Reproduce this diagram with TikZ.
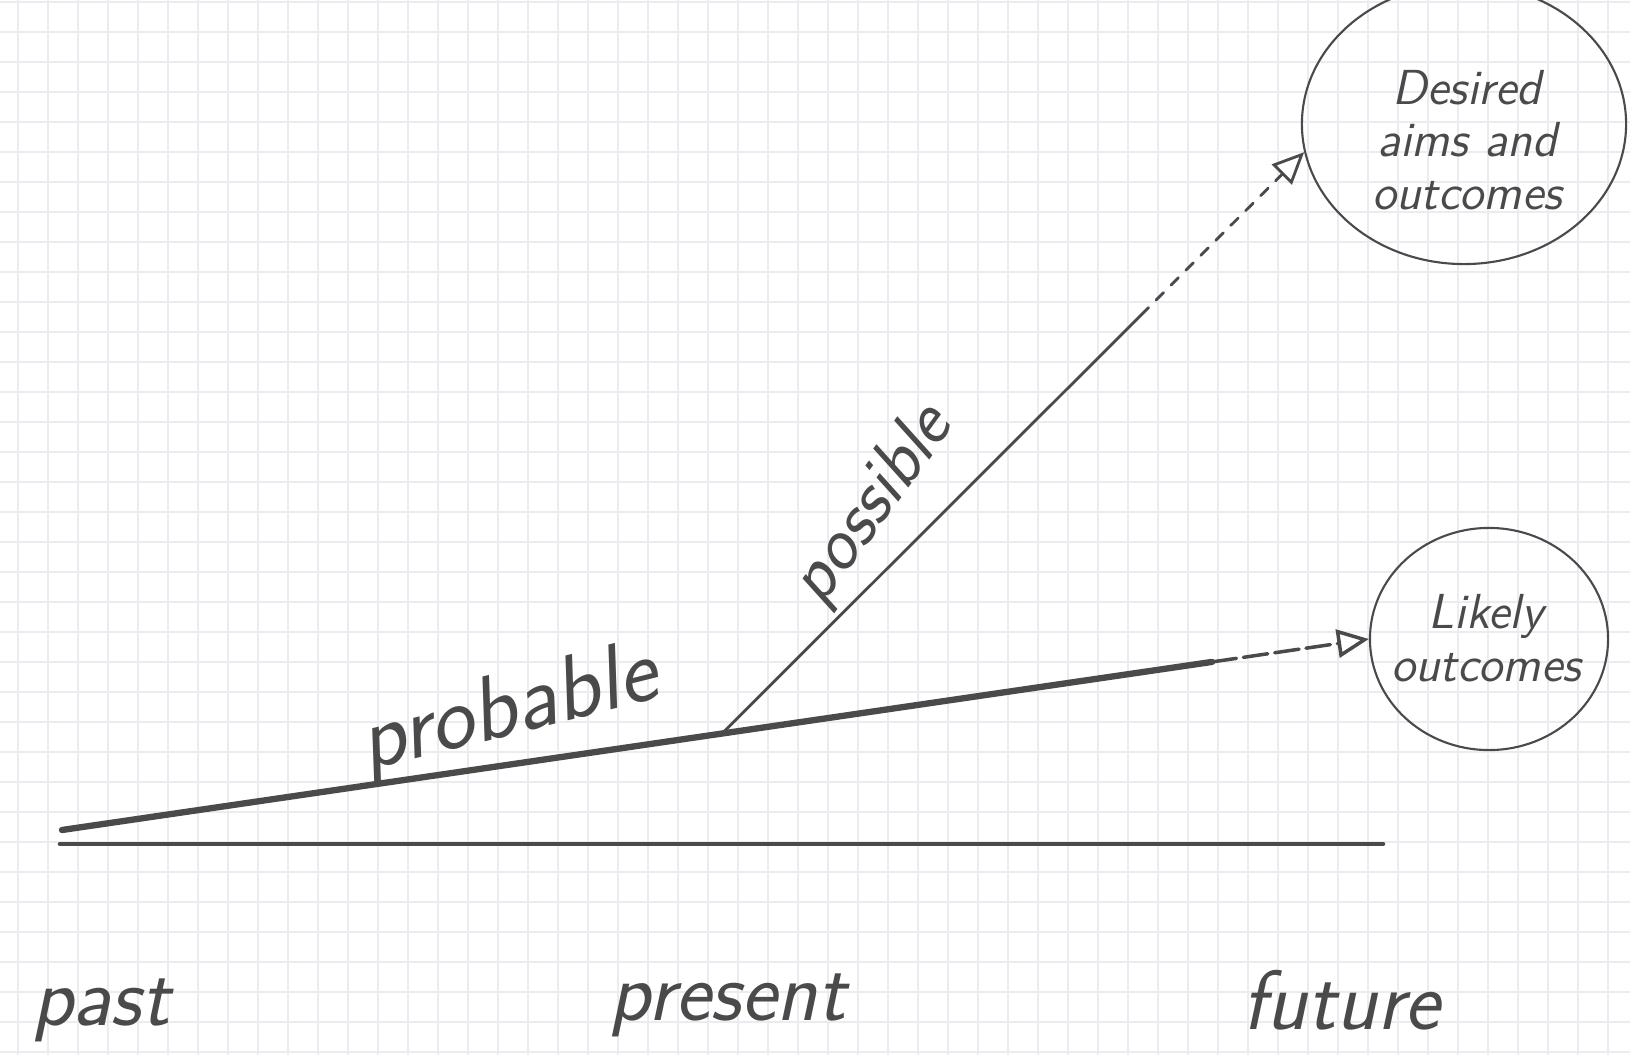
\documentclass[tikz,border=0pt]{standalone}
\usetikzlibrary{arrows.meta,calc,shapes.geometric}
\definecolor{Pencil}{HTML}{4A4A4A}
\definecolor{GridLine}{HTML}{EBEBF1}

\tikzset{
  hand/.style={font=\sffamily\itshape\fontsize{24}{26}\selectfont,text=Pencil,inner sep=0pt},
  note/.style={font=\sffamily\itshape\fontsize{14}{15}\selectfont,text=Pencil,align=center},
  goal/.style={ellipse,draw=Pencil,line width=0.6pt,inner sep=0pt},
  pencil/.style={draw=Pencil,line cap=round},
  tip/.style={-{Triangle[open,length=9pt,width=8pt]}},
}

\begin{document}
\begin{tikzpicture}[x=0.01cm,y=-0.01cm]
        \useasboundingbox (0,0) rectangle (1630,1055);
        \fill[white] (0,0) rectangle (1630,1055);
        % squared paper
        \foreach \gx in {18,48,...,1630}
          \draw[GridLine,line width=0.4pt] (\gx,0)--(\gx,1055);
        \foreach \gy in {2,32,...,1055}
          \draw[GridLine,line width=0.4pt] (0,\gy)--(1630,\gy);

        \node[goal,minimum width=3.24cm,minimum height=2.8cm] (desired) at (1464,124) {};
        \node[note] (desiredText) at (1467,140) {Desired\\aims and\\outcomes};
        \node[goal,minimum width=2.38cm,minimum height=2.22cm] (likely) at (1489,639) {};
        \node[note] (likelyText) at (1486,638) {Likely\\outcomes};

        \coordinate (axisL) at (60,844);
        \coordinate (axisR) at (1383,844);
        \coordinate (start) at (62,830);
        \coordinate (branch) at ($(start)!0.505!(likely.west)$);
        \coordinate (fade) at ($(start)!0.88!(likely.west)$);
        \coordinate (hazy) at ($(branch)!0.72!(desired.190)$);

        \draw[pencil,line width=1.3pt] (axisL)--(axisR);
        \draw[pencil,line width=1.8pt] (start)--(fade);
        \draw[pencil,line width=1pt,dash pattern=on 7pt off 2pt,tip] (fade)--(likely.west);
        \draw[pencil,line width=0.8pt] (branch)--(hazy);
        \draw[pencil,line width=0.8pt,dashed,tip] (hazy)--(desired.190);

        \node[hand,font=\sffamily\itshape\fontsize{26}{28}\selectfont,rotate=14] (probable) at (509,712) {probable};
        \node[hand,font=\sffamily\itshape\fontsize{21}{24}\selectfont,rotate=54] (possible) at (873,506) {possible};
        \node[hand] (past) at (101,1010) {past};
        \node[hand] (present) at (728,1005) {present};
        \node[hand] (future) at (1341,1000) {future};
      \end{tikzpicture}
\end{document}
